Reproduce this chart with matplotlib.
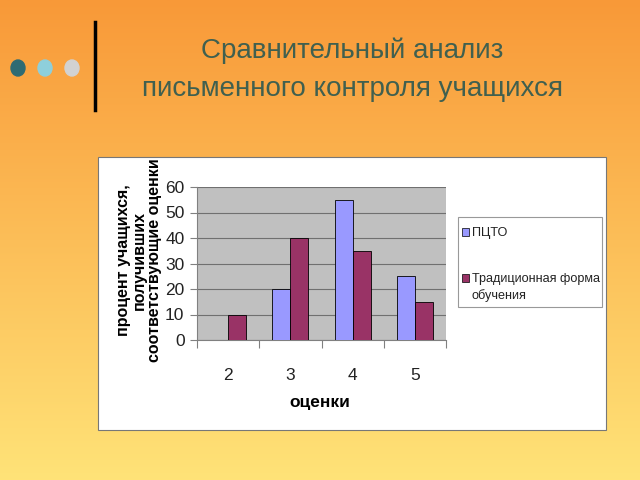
import numpy as np
import matplotlib.pyplot as plt
from matplotlib.patches import Rectangle, Ellipse
from matplotlib.lines import Line2D
import warnings
warnings.filterwarnings('ignore')

# данные
grades = ['2', '3', '4', '5']
pcto = [0, 20, 55, 25]
traditional = [10, 40, 35, 15]
series_names = ['ПЦТО', 'Традиционная форма\nобучения']
series_colors = ['#9999ff', '#993366']
yticks = [0, 10, 20, 30, 40, 50, 60]

plt.rcParams['font.family'] = ['Liberation Sans', 'DejaVu Sans']

W, H = 640, 480
fig = plt.figure(figsize=(6.4, 4.8), dpi=100)

def fx(px):
    return px / W

def fy(py):
    return 1 - py / H

# фон: градиент оранжевый -> жёлтый
bg = fig.add_axes([0, 0, 1, 1], zorder=-10)
grad = np.linspace(0, 1, 256).reshape(-1, 1)
top = np.array([0.975, 0.60, 0.22])
bot = np.array([1.0, 0.89, 0.47])
img = top + (bot - top) * grad[..., None]
bg.imshow(img, aspect='auto', extent=[0, 1, 0, 1], origin='upper')
bg.set_xlim(0, 1)
bg.set_ylim(0, 1)
bg.axis('off')

# декоративные точки и линия
for x, c in [(18, '#2e6b73'), (45, '#8ecfdb'), (72, '#d2d2d2')]:
    bg.add_patch(Ellipse((fx(x), fy(68)), 14 / W, 16 / H, color=c))
bg.add_line(Line2D([fx(95), fx(95)], [fy(22), fy(110)], color='black', lw=2.5))

# заголовок
fig.text(fx(352), fy(51), 'Сравнительный анализ', ha='center', va='center',
         fontsize=20, color='#40604f')
fig.text(fx(352), fy(89), 'письменного контроля учащихся', ha='center', va='center',
         fontsize=20, color='#40604f')

# белая рамка диаграммы
bg.add_patch(Rectangle((fx(98), fy(430)), (606 - 98) / W, (430 - 157) / H,
                       facecolor='white', edgecolor='#777777', lw=0.8))

# область построения
ax = fig.add_axes([fx(197), fy(340), (446 - 197) / W, (340 - 187) / H])
ax.set_facecolor('#c0c0c0')
x = np.arange(len(grades))
w = 0.29
ax.bar(x - w / 2, pcto, w, color=series_colors[0], edgecolor='black', lw=0.6, zorder=3)
ax.bar(x + w / 2, traditional, w, color=series_colors[1], edgecolor='black', lw=0.6, zorder=3)
ax.set_xlim(-0.5, len(grades) - 0.5)
ax.set_ylim(0, 60)
ax.set_yticks(yticks)
ax.set_yticklabels([str(v) for v in yticks], fontsize=12.5, color='#222222')
ax.yaxis.grid(True, color='#707070', lw=0.8, zorder=0)
ax.set_axisbelow(True)
ax.set_xticks(np.arange(-0.5, len(grades), 1.0))
ax.set_xticklabels([])
ax.set_xticks(x, minor=True)
ax.set_xticklabels(grades, minor=True, fontsize=12.5, color='#222222')
ax.tick_params(axis='x', which='minor', length=0, pad=20)
ax.tick_params(axis='x', which='major', length=6, color='#808080', direction='out')
ax.tick_params(axis='y', length=5, color='#808080', pad=4)
for s in ['top', 'right']:
    ax.spines[s].set_visible(False)
ax.spines['left'].set_color('#808080')
ax.spines['bottom'].set_color('#808080')

fig.text(fx(320), fy(403), 'оценки', ha='center', va='center',
         fontsize=12.5, fontweight='bold')
fig.text(fx(139), fy(260), 'процент учащихся,\nполучивших\nсоответствующие оценки',
         ha='center', va='center', rotation=90, fontsize=11.5,
         fontweight='bold', linespacing=1.05)

# легенда (рамка, маркеры, подписи)
bg.add_patch(Rectangle((fx(458), fy(307)), (602 - 458) / W, (307 - 217) / H,
                       facecolor='white', edgecolor='#999999', lw=0.8, zorder=5))
for (py, name, c) in zip([232, 278], series_names, series_colors):
    bg.add_patch(Rectangle((fx(462), fy(py + 4)), 7 / W, 8 / H,
                           facecolor=c, edgecolor='black', lw=0.5, zorder=6))
    fig.text(fx(472), fy(py - 5), name, ha='left', va='top', fontsize=9.1,
             linespacing=1.4, color='#222222')

plt.savefig('out.png', dpi=100)
